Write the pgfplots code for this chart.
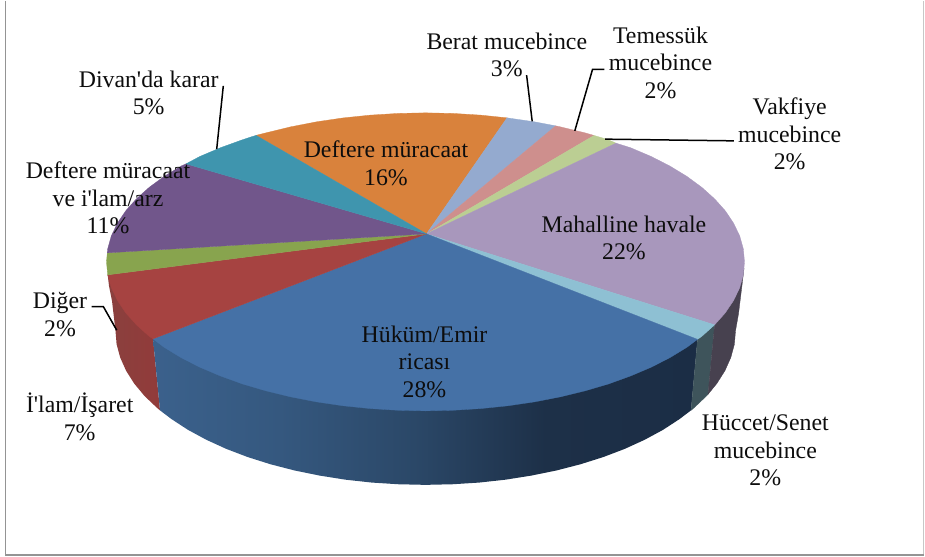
\documentclass[border=0pt]{standalone}
\usepackage{pgfplots}
\pgfplotsset{compat=1.18}
\usepackage{fontspec}
\newfontfamily\labfont{Liberation Serif}
\definecolor{cOrange}{HTML}{D9823C}
\definecolor{cTeal}{HTML}{3F95AE}
\definecolor{cPurple}{HTML}{71568B}
\definecolor{cGreen}{HTML}{88A44E}
\definecolor{cRed}{HTML}{A64341}
\definecolor{cBlue}{HTML}{4571A6}
\definecolor{cCyan}{HTML}{8EC0D3}
\definecolor{cLilac}{HTML}{A897BC}
\definecolor{cLGreen}{HTML}{BBCE93}
\definecolor{cPink}{HTML}{CE8F8D}
\definecolor{cLBlue}{HTML}{94AACF}
\definecolor{wB1}{HTML}{3B618C}
\definecolor{wB2}{HTML}{35587F}
\definecolor{wB3}{HTML}{2B4868}
\definecolor{wB4}{HTML}{1D3048}
\definecolor{wB5}{HTML}{1B2D45}
\definecolor{wR1}{HTML}{8A403E}
\definecolor{wR2}{HTML}{923B3A}
\definecolor{wHuc}{HTML}{3E545B}
\definecolor{wMah}{HTML}{47414F}
\pgfdeclarehorizontalshading{blueWall}{100bp}{color(0bp)=(wB1); color(25bp)=(wB1); color(36.6bp)=(wB2); color(48.9bp)=(wB3); color(61bp)=(wB4); color(75bp)=(wB5); color(100bp)=(wB5)}
\pgfdeclarehorizontalshading{redWall}{100bp}{color(0bp)=(wR1); color(25bp)=(wR1); color(75bp)=(wR2); color(100bp)=(wR2)}
\tikzset{lab/.style={font=\labfont\fontsize{23.8}{27.9}\selectfont,align=center,anchor=center,inner sep=0pt,text=black!95}}
\begin{document}
\begin{tikzpicture}
\begin{axis}[width=925pt,height=556pt,scale only axis,xmin=0,xmax=925,ymin=0,ymax=556,y dir=reverse,hide axis,clip=false]
% page extent
\addplot[fill=white,draw=none] coordinates {(0,0)(925,0)(925,556)(0,556)(0,0)};
% frame
\addplot[draw=black!22,line width=1pt] coordinates {(923.5,0)(923.5,554)};
\addplot[draw=black!42,line width=1.7pt] coordinates {(5.5,0)(5.5,554)(923.5,554)};
% walls
\addplot[shading=redWall,draw=none] coordinates {(107.7,274)(153,338)(160,409.5)(157,407)(144.5,395.1)(134.2,382.7)(126.1,369.9)(120.2,356.7)(116.6,343.4)(115.5,330)(112,300)(109,285)(107.7,274)};
\addplot[shading=blueWall,draw=none] coordinates {(153,338)(697.5,338.5)(691,409.5)(679.4,418.3)(663,429)(644.7,438.9)(624.8,448)(603.3,456.2)(580.5,463.4)(556.5,469.6)(531.5,474.7)(505.7,478.8)(479.3,481.7)(452.5,483.4)(425.5,484)(398.5,483.4)(371.7,481.7)(345.3,478.8)(319.5,474.7)(294.5,469.6)(270.5,463.4)(247.7,456.2)(226.2,448)(206.3,438.9)(188,429)(171.6,418.3)(160,409.5)(153,338)};
\addplot[fill=wHuc,draw=wHuc,line width=0.3pt] coordinates {(714.6,324)(697.5,338.5)(691,409.5)(694,407)(706.5,395.1)(708,393.5)(714.6,324)};
\addplot[fill=wMah,draw=wMah,line width=0.3pt] coordinates {(714.6,324)(744,268)(738.5,313)(735.5,330)(734.4,343.4)(730.8,356.7)(724.9,369.9)(716.8,382.7)(708,393.5)(714.6,324)};
% top faces
\addplot[fill=cOrange,draw=cOrange,line width=0.3pt] coordinates {(426.5,233)(256,134.5)(266,132)(290.7,126)(316.4,121)(342.9,117.1)(370.1,114.3)(397.7,112.6)(425.5,112)(453.3,112.6)(480.9,114.3)(507,117)(426.5,233)};
\addplot[fill=cLBlue,draw=cLBlue,line width=0.3pt] coordinates {(426.5,233)(507,117)(534.6,121)(555.7,125)(426.5,233)};
\addplot[fill=cPink,draw=cPink,line width=0.3pt] coordinates {(426.5,233)(555.7,125)(560.3,126)(585,132)(594,134.6)(426.5,233)};
\addplot[fill=cLGreen,draw=cLGreen,line width=0.3pt] coordinates {(426.5,233)(594,134.6)(608.5,138.9)(616,142.3)(426.5,233)};
\addplot[fill=cLilac,draw=cLilac,line width=0.3pt] coordinates {(426.5,233)(616,142.3)(630.6,146.9)(651.1,155.6)(669.9,165.2)(686.8,175.5)(701.8,186.5)(714.6,198)(725.3,210)(733.6,222.4)(739.7,235.1)(743.3,248)(744.5,261)(743.3,274)(739.7,286.9)(733.6,299.6)(725.3,312)(714.6,324)(426.5,233)};
\addplot[fill=cCyan,draw=cCyan,line width=0.3pt] coordinates {(426.5,233)(714.6,324)(701.8,335.5)(697.5,338.5)(426.5,233)};
\addplot[fill=cBlue,draw=cBlue,line width=0.3pt] coordinates {(426.5,233)(697.5,338.5)(686.8,346.5)(669.9,356.8)(651.1,366.4)(630.6,375.1)(608.5,383.1)(585,390)(560.3,396)(534.6,401)(508.1,404.9)(480.9,407.7)(453.3,409.4)(425.5,410)(397.7,409.4)(370.1,407.7)(342.9,404.9)(316.4,401)(290.7,396)(266,390)(242.5,383.1)(220.4,375.1)(199.9,366.4)(181.1,356.8)(164.2,346.5)(153,338)(426.5,233)};
\addplot[fill=cRed,draw=cRed,line width=0.3pt] coordinates {(426.5,233)(153,338)(149.2,335.5)(136.4,324)(125.7,312)(117.4,299.6)(111.3,286.9)(107.7,274)(426.5,233)};
\addplot[fill=cGreen,draw=cGreen,line width=0.3pt] coordinates {(426.5,233)(107.7,274)(106.5,261)(107.3,252)(426.5,233)};
\addplot[fill=cPurple,draw=cPurple,line width=0.3pt] coordinates {(426.5,233)(107.3,252)(107.7,248)(111.3,235.1)(117.4,222.4)(125.7,210)(136.4,198)(149.2,186.5)(164.2,175.5)(181.1,165.2)(186,163)(426.5,233)};
\addplot[fill=cTeal,draw=cTeal,line width=0.3pt] coordinates {(426.5,233)(186,163)(199.9,155.6)(220.4,146.9)(242.5,138.9)(256,134.5)(426.5,233)};
% leaders
\addplot[black,line width=1.5pt] coordinates {(223.3,85)(216.7,148.3)};
\addplot[black,line width=1.5pt] coordinates {(526.6,74.3)(532.2,120.5)};
\addplot[black,line width=1.5pt] coordinates {(604.3,68.6)(592.5,68.6)(574.8,130)};
\addplot[black,line width=1.5pt] coordinates {(733.8,140)(605,138.3)};
\addplot[black,line width=1.5pt] coordinates {(91.7,305.7)(103.3,305.7)(116.7,329.3)};
% labels
\node[lab] at (axis cs:148.7,92) {Divan'da karar\\5\%};
\node[lab] at (axis cs:506.8,54) {Berat mucebince\\3\%};
\node[lab] at (axis cs:660.5,62) {Temessük\\mucebince\\2\%};
\node[lab] at (axis cs:789.7,133) {Vakfiye\\mucebince\\2\%};
\node[lab] at (axis cs:386,162) {Deftere müracaat\\16\%};
\node[lab] at (axis cs:108,197) {Deftere müracaat\\ve i'lam/arz\\11\%};
\node[lab] at (axis cs:624,237) {Mahalline havale\\22\%};
\node[lab] at (axis cs:424.5,361) {Hüküm/Emir\\ricası\\28\%};
\node[lab] at (axis cs:60,314) {Diğer\\2\%};
\node[lab] at (axis cs:79.7,416) {İ'lam/İşaret\\7\%};
\node[lab] at (axis cs:765.3,449.5) {Hüccet/Senet\\mucebince\\2\%};
\end{axis}
\end{tikzpicture}
\end{document}
